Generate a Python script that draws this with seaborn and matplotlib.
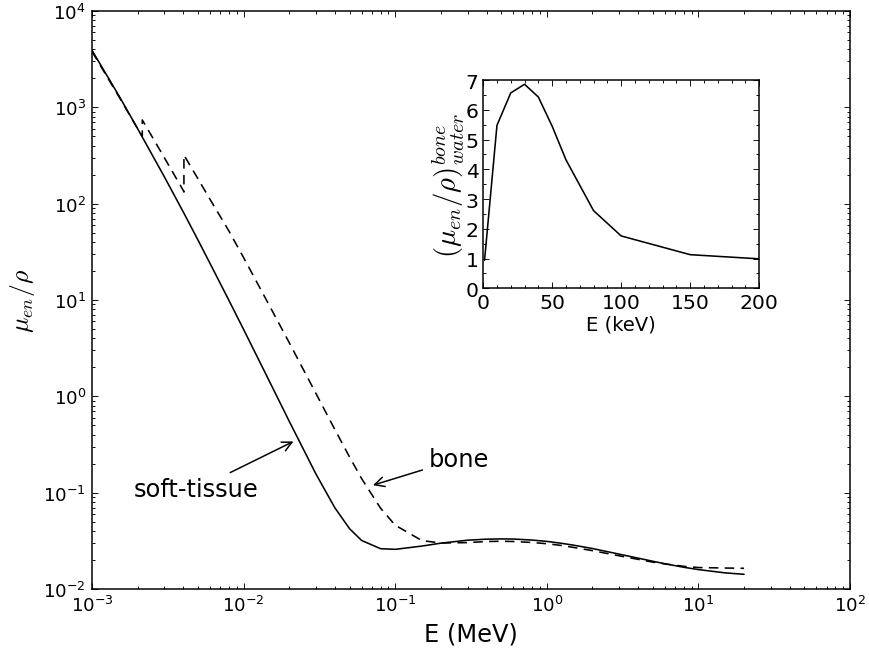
import numpy as np
import matplotlib
matplotlib.use("Agg")
import matplotlib.pyplot as plt
import matplotlib.ticker as mticker
import seaborn as sns

# ---- data (MeV, cm^2/g) ----
energy_soft = [1e-3, 1.5e-3, 2e-3, 3e-3, 4e-3, 5e-3, 6e-3, 8e-3, 0.01, 0.015, 0.02,
               0.03, 0.04, 0.05, 0.06, 0.08, 0.1, 0.15, 0.2, 0.3, 0.4, 0.5, 0.6, 0.8,
               1.0, 1.25, 1.5, 2.0, 3.0, 4.0, 5.0, 6.0, 8.0, 10.0, 15.0, 20.0]
mu_soft = [3900, 1330, 600, 190, 81.9, 41.9, 24.0, 9.9, 4.94, 1.37, 0.55,
           0.156, 0.0695, 0.0422, 0.0319, 0.0262, 0.0258, 0.0279, 0.0299, 0.0321, 0.0329,
           0.0331, 0.0330, 0.0322, 0.0312, 0.0298, 0.0285, 0.0263, 0.0230, 0.0209,
           0.0194, 0.0183, 0.0168, 0.0159, 0.0147, 0.0142]

energy_bone = [1e-3, 1.5e-3, 2e-3, 2.1455e-3, 2.1455e-3, 3e-3, 4e-3, 4.0381e-3, 4.0381e-3,
               5e-3, 6e-3, 8e-3, 0.01, 0.015, 0.02, 0.03, 0.04, 0.05, 0.06, 0.08, 0.1,
               0.15, 0.2, 0.3, 0.4, 0.5, 0.6, 0.8, 1.0, 1.25, 1.5, 2.0, 3.0, 4.0, 5.0,
               6.0, 8.0, 10.0, 15.0, 20.0]
mu_bone = [3800, 1300, 600, 500, 740, 300, 137, 132, 320,
           181, 111, 52, 27.5, 8.4, 3.6, 1.07, 0.451, 0.234, 0.140, 0.069, 0.0459,
           0.0318, 0.0300, 0.0303, 0.0311, 0.0313, 0.0311, 0.0304, 0.0295, 0.0283,
           0.0270, 0.0250, 0.0221, 0.0203, 0.0190, 0.0182, 0.0172, 0.0167, 0.0165, 0.0164]

# inset: ratio bone / water vs E (keV)
energy_kev = [1, 10, 20, 30, 40, 50, 60, 80, 100, 150, 200]
ratio = [0.94, 5.48, 6.57, 6.86, 6.43, 5.45, 4.32, 2.61, 1.76, 1.13, 0.99]

# ---- style ----
sns.set_theme(style="white")
plt.rcParams.update({
    "font.family": ["DejaVu Sans"],
    "axes.unicode_minus": False,
    "axes.edgecolor": "black",
    "axes.linewidth": 1.0,
    "xtick.direction": "in",
    "ytick.direction": "in",
    "xtick.top": True,
    "ytick.right": True,
    "xtick.bottom": True,
    "ytick.left": True,
    "xtick.major.size": 4,
    "ytick.major.size": 4,
    "xtick.minor.size": 2,
    "ytick.minor.size": 2,
    "xtick.major.width": 0.6,
    "ytick.major.width": 0.6,
    "xtick.minor.width": 0.6,
    "ytick.minor.width": 0.6,
    "xtick.color": "black",
    "ytick.color": "black",
    "xtick.labelsize": 12,
    "ytick.labelsize": 12,
    "xtick.major.pad": 4,
    "ytick.major.pad": 4,
    "axes.labelcolor": "black",
    "text.color": "black",
})

fig = plt.figure(figsize=(8, 6.0115), dpi=108.625)
ax = fig.add_axes([0.1059, 0.0965, 0.8723, 0.8851])
ax.set_xscale("log")
ax.set_yscale("log")

sns.lineplot(x=energy_soft, y=mu_soft, estimator=None, sort=False, ax=ax,
             color="black", lw=1.05)
sns.lineplot(x=energy_bone, y=mu_bone, estimator=None, sort=False, ax=ax,
             color="black", lw=1.05, linestyle=(0, (6, 4)))

ax.set_xlim(1e-3, 1e2)
ax.set_ylim(1e-2, 1e4)
ax.xaxis.set_major_locator(mticker.LogLocator(base=10, numticks=10))
ax.yaxis.set_major_locator(mticker.LogLocator(base=10, numticks=10))
ax.xaxis.set_minor_locator(mticker.LogLocator(base=10, subs=np.arange(2, 10), numticks=20))
ax.yaxis.set_minor_locator(mticker.LogLocator(base=10, subs=np.arange(2, 10), numticks=20))
ax.xaxis.set_minor_formatter(mticker.NullFormatter())
ax.yaxis.set_minor_formatter(mticker.NullFormatter())
ax.tick_params(which="both", direction="in", top=True, right=True)

ax.set_xlabel("E (MeV)", fontsize=16)
ax.set_ylabel(r"$\mu_{en}/\rho$", fontsize=17, math_fontfamily="cm")

ax.annotate("soft-tissue", xy=(0.0222, 0.351), xytext=(0.00485, 0.108),
            ha="center", va="center", fontsize=16,
            arrowprops=dict(arrowstyle="->", color="black", lw=1.0))
ax.annotate("bone", xy=(0.0682, 0.117), xytext=(0.2636, 0.225),
            ha="center", va="center", fontsize=16,
            arrowprops=dict(arrowstyle="->", color="black", lw=1.0))

# ---- inset ----
axi = fig.add_axes([0.5560, 0.5570, 0.3176, 0.3188])
sns.lineplot(x=energy_kev, y=ratio, estimator=None, sort=False, ax=axi,
             color="black", lw=1.05)
axi.set_xlim(0, 200)
axi.set_ylim(0, 7)
axi.xaxis.set_major_locator(mticker.MultipleLocator(50))
axi.xaxis.set_minor_locator(mticker.MultipleLocator(10))
axi.yaxis.set_major_locator(mticker.MultipleLocator(1))
axi.yaxis.set_minor_locator(mticker.MultipleLocator(0.5))
axi.tick_params(which="both", direction="in", top=True, right=True, labelsize=13.5)
axi.tick_params(which="major", pad=3)
axi.set_xlabel("E (keV)", fontsize=13, labelpad=2)
axi.set_ylabel(r"$(\mu_{en}/\rho)^{bone}_{water}$", fontsize=19,
               math_fontfamily="cm", labelpad=-1)

fig.savefig("out.png", dpi=108.625, facecolor="white")
